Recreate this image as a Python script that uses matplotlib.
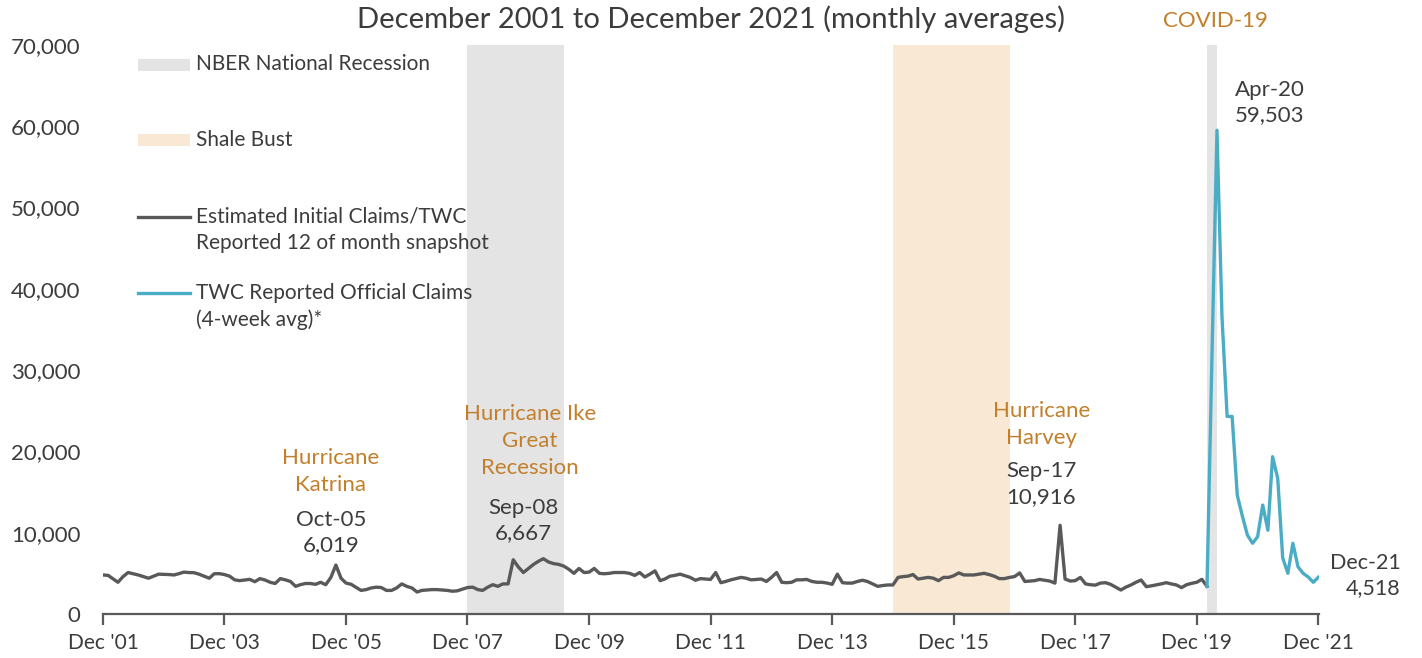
import matplotlib.pyplot as plt
import matplotlib.ticker as mticker
from matplotlib.patches import Rectangle
from matplotlib.lines import Line2D
import pandas as pd

plt.rcParams['font.family'] = ['Lato', 'DejaVu Sans']

# Estimated initial claims, monthly, Dec 2001 .. Feb 2020
estimated_start = '2001-12-01'
estimated_claims = [
    4800,
    4750, 4300, 3900, 4600, 5100, 4950, 4800, 4600, 4400, 4650, 4900, 4880,   # 2002
    4850, 4800, 4950, 5150, 5100, 5080, 4900, 4650, 4400, 4950, 4960, 4850,   # 2003
    4650, 4200, 4100, 4180, 4260, 3970, 4350, 4180, 3900, 3750, 4350, 4200,   # 2004
    4000, 3400, 3600, 3750, 3750, 3650, 3900, 3600, 4500, 6019, 4400, 3800,   # 2005
    3650, 3250, 2900, 3000, 3200, 3300, 3250, 2900, 2900, 3200, 3700, 3400,   # 2006
    3200, 2700, 2900, 2950, 3000, 3000, 2950, 2900, 2800, 2850, 3050, 3250,   # 2007
    3300, 3000, 2900, 3300, 3600, 3400, 3700, 3700, 6667, 5800, 5100, 5600,   # 2008
    6100, 6500, 6800, 6400, 6200, 6100, 5900, 5500, 5000, 5600, 5100, 5150,   # 2009
    5600, 5000, 4950, 5000, 5100, 5100, 5100, 5000, 4750, 5100, 4550, 4900,   # 2010
    5300, 4100, 4300, 4650, 4750, 4900, 4700, 4500, 4150, 4350, 4300, 4250,   # 2011
    5100, 3850, 4000, 4200, 4350, 4500, 4400, 4200, 4250, 4300, 4000, 4500,   # 2012
    5100, 3900, 3850, 3900, 4200, 4200, 4250, 4000, 3900, 3900, 3800, 3650,   # 2013
    4900, 3850, 3800, 3800, 4000, 4150, 4000, 3700, 3400, 3500, 3570, 3570,   # 2014
    4500, 4600, 4650, 4850, 4300, 4400, 4500, 4400, 4100, 4500, 4500, 4700,   # 2015
    5050, 4800, 4800, 4800, 4900, 5000, 4850, 4650, 4350, 4350, 4500, 4600,   # 2016
    5050, 4000, 4050, 4100, 4250, 4150, 4050, 3800, 10916, 4300, 4050, 4100,  # 2017
    4500, 3700, 3600, 3550, 3800, 3850, 3650, 3300, 2950, 3300, 3570, 3900,   # 2018
    4180, 3360, 3450, 3570, 3700, 3850, 3700, 3570, 3240, 3600, 3770, 3900,   # 2019
    4260, 3400,                                                               # 2020
]

# TWC reported official claims (4-week avg), Feb 2020 .. Dec 2021
official_start = '2020-02-01'
official_claims = [
    3400, 31000, 59503, 36600, 24300, 24300, 14600, 12000, 9700, 8700, 9500,
    13400, 10300, 19350, 16700, 6900, 5000, 8700, 5800, 5000, 4550, 3900, 4518,
]

recessions = [('2007-12-01', '2009-07-05'), ('2020-02-01', '2020-04-01')]
shale_bust = ('2014-12-01', '2016-11-01')

tick_years = list(range(2001, 2022, 2))
tick_labels = [f"Dec '{y % 100:02d}" for y in tick_years]
y_ticks = list(range(0, 70001, 10000))

# colours
text_gray = '#3C3C3C'
line_gray = '#595959'
orange = '#C27F2C'
blue = '#4BACC6'
recession_gray = '#E4E4E4'
shale_tan = '#F9E8D4'

est_dates = pd.date_range(estimated_start, periods=len(estimated_claims), freq='MS')
off_dates = pd.date_range(official_start, periods=len(official_claims), freq='MS')

fig = plt.figure(figsize=(14.22, 6.58), dpi=100)
ax = fig.add_axes([0.0724, 0.0669, 0.8555, 0.8647])

for start, end in recessions:
    ax.axvspan(pd.Timestamp(start), pd.Timestamp(end), color=recession_gray, lw=0, zorder=0)
ax.axvspan(pd.Timestamp(shale_bust[0]), pd.Timestamp(shale_bust[1]), color=shale_tan, lw=0, zorder=0)

ax.plot(est_dates, estimated_claims, color=line_gray, lw=2.4, zorder=3)
ax.plot(off_dates, official_claims, color=blue, lw=2.4, zorder=3)

ax.set_xlim(pd.Timestamp('2001-12-01'), pd.Timestamp('2021-12-08'))
ax.set_ylim(0, 70000)

ax.set_xticks([pd.Timestamp(f'{y}-12-01') for y in tick_years])
ax.set_xticklabels(tick_labels)
ax.set_yticks(y_ticks)
ax.yaxis.set_major_formatter(mticker.FuncFormatter(lambda v, p: f'{int(v):,}'))

for s in ['top', 'right', 'left']:
    ax.spines[s].set_visible(False)
ax.spines['bottom'].set_color(line_gray)
ax.spines['bottom'].set_linewidth(1.6)
ax.tick_params(axis='x', colors=line_gray, length=8, width=1.6, direction='out', pad=6,
               labelsize=15, labelcolor=text_gray)
ax.tick_params(axis='y', length=0, pad=16, labelsize=16, labelcolor=text_gray)

# legend drawn by hand to keep the wide spacing of the original
fs_leg = 15
lx0, lx1, tx = 0.0288, 0.0715, 0.0764
ax.add_patch(Rectangle((lx0, 0.955), lx1 - lx0, 0.021, transform=ax.transAxes,
                       color=recession_gray, lw=0, clip_on=False))
ax.text(tx, 0.966, 'NBER National Recession', transform=ax.transAxes, fontsize=fs_leg,
        color=text_gray, va='center')
ax.add_patch(Rectangle((lx0, 0.822), lx1 - lx0, 0.021, transform=ax.transAxes,
                       color=shale_tan, lw=0, clip_on=False))
ax.text(tx, 0.833, 'Shale Bust', transform=ax.transAxes, fontsize=fs_leg,
        color=text_gray, va='center')
ax.add_line(Line2D([lx0, lx1], [0.698, 0.698], transform=ax.transAxes, color=line_gray, lw=2.4))
ax.text(tx, 0.698, 'Estimated Initial Claims/TWC', transform=ax.transAxes, fontsize=fs_leg,
        color=text_gray, va='center')
ax.text(tx, 0.652, 'Reported 12 of month snapshot', transform=ax.transAxes, fontsize=fs_leg,
        color=text_gray, va='center')
ax.add_line(Line2D([lx0, lx1], [0.564, 0.564], transform=ax.transAxes, color=blue, lw=2.4))
ax.text(tx, 0.564, 'TWC Reported Official Claims', transform=ax.transAxes, fontsize=fs_leg,
        color=text_gray, va='center')
ax.text(tx, 0.518, '(4-week avg)*', transform=ax.transAxes, fontsize=fs_leg,
        color=text_gray, va='center')

# annotations
ax.text(pd.Timestamp('2005-09-01'), 17500, 'Hurricane\nKatrina', ha='center', va='center',
        fontsize=16, color=orange, linespacing=1.45)
ax.text(pd.Timestamp('2005-09-01'), 10000, 'Oct-05\n6,019', ha='center', va='center',
        fontsize=16, color=text_gray, linespacing=1.35)
ax.text(pd.Timestamp('2008-12-10'), 21300, 'Hurricane Ike\nGreat\nRecession', ha='center',
        va='center', fontsize=16, color=orange, linespacing=1.45)
ax.text(pd.Timestamp('2008-11-01'), 11500, 'Sep-08\n6,667', ha='center', va='center',
        fontsize=16, color=text_gray, linespacing=1.35)
ax.text(pd.Timestamp('2017-05-10'), 23300, 'Hurricane\nHarvey', ha='center', va='center',
        fontsize=16, color=orange, linespacing=1.45)
ax.text(pd.Timestamp('2017-05-10'), 16000, 'Sep-17\n10,916', ha='center', va='center',
        fontsize=16, color=text_gray, linespacing=1.35)
ax.text(pd.Timestamp('2020-03-20'), 73000, 'COVID-19', ha='center', va='center',
        fontsize=16, color=orange, clip_on=False)
ax.text(pd.Timestamp('2020-07-20'), 62900, 'Apr-20\n59,503', ha='left', va='center',
        fontsize=16, color=text_gray, linespacing=1.35)
ax.text(pd.Timestamp('2023-04-10'), 4750, 'Dec-21\n4,518', ha='right', va='center',
        fontsize=15.5, color=text_gray, linespacing=1.3, multialignment='right', clip_on=False)

fig.text(0.5, 0.958, 'December 2001 to December 2021 (monthly averages)', ha='center',
         va='baseline', fontsize=21, color=text_gray)

fig.savefig('out.png', dpi=100)
